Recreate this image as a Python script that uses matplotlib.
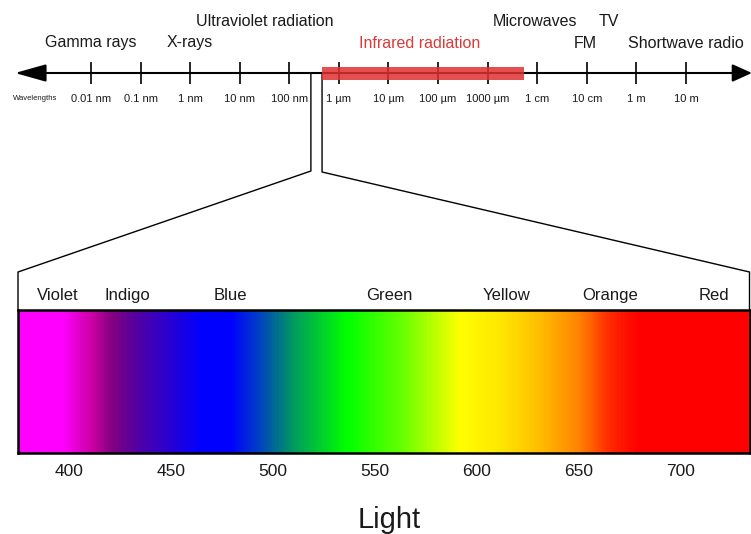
import numpy as np
import matplotlib.pyplot as plt
from matplotlib.colors import LinearSegmentedColormap

plt.rcParams['font.family'] = ['Liberation Sans', 'DejaVu Sans']
TXT = '#1a1a1a'

# electromagnetic scale, positions are log10(wavelength in metres)
tick_pos = [-11, -10, -9, -8, -7, -6, -5, -4, -3, -2, -1, 0, 1]
tick_labels = ['0.01 nm', '0.1 nm', '1 nm', '10 nm', '100 nm', '1 µm', '10 µm',
               '100 µm', '1000 µm', '1 cm', '10 cm', '1 m', '10 m']
band_names = ['Gamma rays', 'X-rays', 'Ultraviolet radiation', 'Infrared radiation',
              'Microwaves', 'FM', 'TV', 'Shortwave radio']
band_pos = [-11.0, -9.0, -7.5, -4.37, -2.05, -1.04, -0.56, 1.0]
band_row = [2, 2, 1, 2, 1, 2, 1, 2]
infrared = (-6.34, -2.27)
visible = (-6.565, -6.34)

# visible spectrum (nm)
spec_nm = [375, 396, 411, 421, 435, 465, 479, 492, 509, 536, 563, 592, 612, 631, 651, 666, 680, 734]
spec_rgb = [(255, 0, 255), (255, 0, 255), (200, 0, 160), (128, 0, 128), (75, 0, 170), (0, 0, 255),
            (0, 0, 255), (0, 60, 200), (0, 150, 100), (0, 255, 0), (100, 255, 0), (255, 255, 0),
            (255, 230, 0), (255, 190, 0), (255, 130, 0), (255, 40, 0), (255, 0, 0), (255, 0, 0)]
color_names = ['Violet', 'Indigo', 'Blue', 'Green', 'Yellow', 'Orange', 'Red']
color_pos = [394.6, 428.4, 479.4, 556.9, 614.7, 665.2, 716.2]
nm_ticks = [400, 450, 500, 550, 600, 650, 700]

W, H = 751, 534
fig = plt.figure(figsize=(W / 100, H / 100), dpi=100)

# top scale: full-figure axes, x in decades, y in pixels from the top
ax = fig.add_axes([0, 0, 1, 1])
ax.set_xlim(-12.835, 2.311)
ax.set_ylim(H, 0)
ax.axis('off')
axis_y = 73
row_y = {1: 21, 2: 43}

# arrow heads at both ends of the scale
for tip, back, hl in [(-12.532, -12.0, 1.6), (2.33, 1.9, 1.0)]:
    ax.annotate('', xy=(tip, axis_y), xytext=(back, axis_y), annotation_clip=False,
                arrowprops=dict(arrowstyle=f'-|>,head_length={hl},head_width=0.45', mutation_scale=12,
                                color='black', lw=1.5, shrinkA=0, shrinkB=0))
ax.plot([-12.1, 2.0], [axis_y, axis_y], color='black', lw=1.5, zorder=2)
ax.vlines(tick_pos, axis_y - 11, axis_y + 11, color='black', lw=1.2, zorder=2)
ax.barh(axis_y, infrared[1] - infrared[0], left=infrared[0], height=13,
        color='#e03030', alpha=0.85, zorder=3)
for p, lab in zip(tick_pos, tick_labels):
    ax.text(p, 99, lab, ha='center', va='center', fontsize=8, color=TXT)
ax.text(-12.13, 99, 'Wavelengths', ha='center', va='center', fontsize=5.5, color=TXT)
for name, p, r in zip(band_names, band_pos, band_row):
    c = '#d93a3a' if name.startswith('Infrared') else TXT
    ax.text(p, row_y[r], name, ha='center', va='center', fontsize=11.5, color=c)

# visible spectrum box
ax_s = fig.add_axes([18 / W, (H - 453) / H, 732 / W, 143 / H])
stops = [((n - spec_nm[0]) / (spec_nm[-1] - spec_nm[0]), tuple(v / 255 for v in c))
         for n, c in zip(spec_nm, spec_rgb)]
cmap = LinearSegmentedColormap.from_list('visible', stops)
grid = np.linspace(spec_nm[0], spec_nm[-1], 800)[None, :]
ax_s.imshow(grid, cmap=cmap, aspect='auto', extent=(spec_nm[0], spec_nm[-1], 0, 1),
            vmin=spec_nm[0], vmax=spec_nm[-1])
ax_s.set_xlim(spec_nm[0], spec_nm[-1])
ax_s.set_yticks([])
ax_s.set_xticks(nm_ticks)
ax_s.tick_params(axis='x', length=0, pad=8, labelsize=12.5, labelcolor=TXT)
for s in ax_s.spines.values():
    s.set_linewidth(1.8)
    s.set_color('black')
ax_s.set_xlabel('Light', fontsize=21, color=TXT)
ax_s.xaxis.set_label_coords(0.507, -0.37)
sec = ax_s.secondary_xaxis('top')
sec.set_xticks(color_pos, color_names)
sec.tick_params(length=0, pad=5, labelsize=12, labelcolor=TXT)
sec.spines['top'].set_visible(False)

# zoom lines from the visible band down to the spectrum box
inv = ax.transData.inverted()
bl = inv.transform(ax_s.transAxes.transform((0, 1)))
br = inv.transform(ax_s.transAxes.transform((1, 1)))
ax.plot([visible[0], visible[0], bl[0], bl[0]], [axis_y, 171, 272, bl[1]], color='black', lw=1)
ax.plot([visible[1], visible[1], br[0] - 0.01, br[0] - 0.01], [axis_y, 172, 272, br[1]], color='black', lw=1)

fig.savefig('out.png', dpi=100)
